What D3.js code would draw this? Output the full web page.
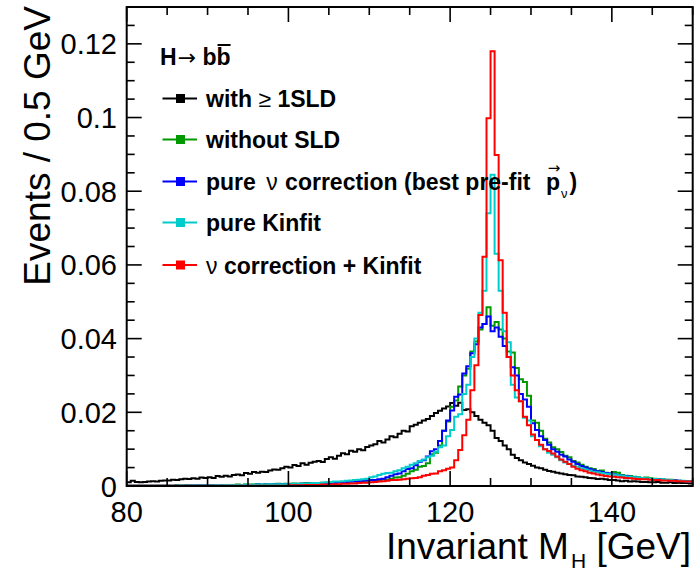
<!DOCTYPE html>
<html><head><meta charset="utf-8">
<script src="https://cdn.jsdelivr.net/npm/d3@7/dist/d3.min.js"></script>
<style>
body{margin:0;background:#fff}
svg{display:block}
text{font-family:"Liberation Sans",Arial,Helvetica,sans-serif;fill:#000}
</style>
</head><body>
<svg id="chart" width="696" height="569"></svg>
<script>
// ---------- data ----------
const binLow = 80;
const binWidth = 0.5;
const xTickValues = [80, 100, 120, 140];
const xTickLabels = ["80", "100", "120", "140"];
const yTickValues = [0, 0.02, 0.04, 0.06, 0.08, 0.1, 0.12];
const yTickLabels = ["0", "0.02", "0.04", "0.06", "0.08", "0.1", "0.12"];
const seriesNames = ["with ≥ 1SLD", "without SLD", "pure ν correction (best pre-fit p_ν)", "pure Kinfit", "ν correction + Kinfit"];
const seriesColors = ["#000000", "#009900", "#0000ff", "#00cccc", "#ff0000"];

const withSLD = [
0.0010,0.0014,0.0011,0.0010,0.0011,0.0012,0.0013,0.0012,0.0014,0.0015,
0.0015,0.0017,0.0016,0.0018,0.0020,0.0019,0.0021,0.0020,0.0023,0.0022,
0.0024,0.0022,0.0027,0.0025,0.0028,0.0026,0.0030,0.0031,0.0029,0.0035,
0.0033,0.0038,0.0036,0.0039,0.0038,0.0042,0.0045,0.0044,0.0048,0.0052,
0.0050,0.0057,0.0054,0.0062,0.0058,0.0063,0.0066,0.0068,0.0065,0.0073,
0.0078,0.0074,0.0082,0.0089,0.0086,0.0096,0.0093,0.0100,0.0097,0.0106,
0.0110,0.0113,0.0122,0.0118,0.0126,0.0135,0.0132,0.0142,0.0150,0.0148,
0.0162,0.0166,0.0172,0.0178,0.0182,0.0190,0.0198,0.0204,0.0210,0.0216,
0.0225,0.0218,0.0226,0.0206,0.0208,0.0200,0.0190,0.0180,0.0172,0.0165,
0.0150,0.0130,0.0122,0.0110,0.0100,0.0085,0.0076,0.0070,0.0064,0.0060,
0.0055,0.0050,0.0048,0.0044,0.0041,0.0039,0.0036,0.0034,0.0032,0.0030,
0.0029,0.0026,0.0025,0.0024,0.0022,0.0021,0.0019,0.0020,0.0018,0.0016,
0.0016,0.0015,0.0013,0.0014,0.0012,0.0013,0.0012,0.0011,0.0011,0.0010,
0.0010,0.0011,0.0009,0.0009,0.0010,0.0008,0.0009,0.0008,0.0008,0.0007];

const withoutSLD = [
0.0001,0.0001,0.0001,0.0001,0.0001,0.0001,0.0001,0.0001,0.0001,0.0001,
0.0001,0.0001,0.0002,0.0001,0.0002,0.0002,0.0002,0.0002,0.0002,0.0002,
0.0002,0.0003,0.0002,0.0003,0.0003,0.0003,0.0003,0.0004,0.0003,0.0004,
0.0004,0.0004,0.0005,0.0004,0.0005,0.0005,0.0005,0.0006,0.0005,0.0006,
0.0006,0.0007,0.0006,0.0007,0.0008,0.0007,0.0008,0.0008,0.0009,0.0009,
0.0010,0.0009,0.0010,0.0011,0.0011,0.0012,0.0012,0.0013,0.0013,0.0014,
0.0015,0.0016,0.0016,0.0018,0.0017,0.0020,0.0023,0.0024,0.0028,0.0033,
0.0040,0.0044,0.0052,0.0054,0.0062,0.0086,0.0090,0.0110,0.0150,0.0175,
0.0215,0.0232,0.0270,0.0300,0.0318,0.0365,0.0392,0.0425,0.0440,0.0485,
0.0435,0.0445,0.0425,0.0400,0.0365,0.0362,0.0320,0.0290,0.0282,0.0245,
0.0178,0.0172,0.0150,0.0128,0.0118,0.0105,0.0100,0.0092,0.0082,0.0078,
0.0068,0.0064,0.0058,0.0052,0.0048,0.0046,0.0040,0.0042,0.0036,0.0034,
0.0038,0.0036,0.0030,0.0028,0.0027,0.0025,0.0024,0.0022,0.0023,0.0021,
0.0020,0.0019,0.0018,0.0017,0.0017,0.0015,0.0014,0.0013,0.0013,0.0012];

const pureNuCorr = [
0.0001,0.0001,0.0001,0.0001,0.0001,0.0001,0.0001,0.0001,0.0001,0.0001,
0.0001,0.0001,0.0001,0.0001,0.0001,0.0002,0.0001,0.0002,0.0002,0.0002,
0.0002,0.0002,0.0002,0.0002,0.0003,0.0002,0.0003,0.0003,0.0003,0.0003,
0.0003,0.0003,0.0004,0.0003,0.0004,0.0004,0.0004,0.0004,0.0005,0.0004,
0.0005,0.0005,0.0005,0.0006,0.0006,0.0006,0.0007,0.0007,0.0007,0.0008,
0.0008,0.0009,0.0010,0.0010,0.0011,0.0012,0.0012,0.0013,0.0014,0.0015,
0.0016,0.0016,0.0018,0.0020,0.0024,0.0028,0.0032,0.0034,0.0040,0.0046,
0.0048,0.0056,0.0066,0.0070,0.0080,0.0094,0.0100,0.0122,0.0150,0.0178,
0.0205,0.0242,0.0248,0.0305,0.0325,0.0360,0.0385,0.0430,0.0440,0.0460,
0.0420,0.0430,0.0405,0.0380,0.0350,0.0322,0.0300,0.0250,0.0235,0.0215,
0.0170,0.0152,0.0135,0.0125,0.0112,0.0100,0.0093,0.0085,0.0080,0.0072,
0.0066,0.0060,0.0054,0.0050,0.0046,0.0043,0.0040,0.0038,0.0035,0.0034,
0.0032,0.0030,0.0028,0.0027,0.0025,0.0023,0.0022,0.0021,0.0020,0.0019,
0.0018,0.0019,0.0017,0.0016,0.0015,0.0016,0.0014,0.0013,0.0013,0.0012];

const pureKinfit = [
0.0001,0.0001,0.0001,0.0001,0.0001,0.0001,0.0001,0.0001,0.0001,0.0001,
0.0001,0.0001,0.0001,0.0002,0.0001,0.0002,0.0002,0.0002,0.0002,0.0002,
0.0002,0.0002,0.0003,0.0002,0.0003,0.0003,0.0003,0.0003,0.0003,0.0004,
0.0003,0.0004,0.0004,0.0004,0.0004,0.0005,0.0004,0.0005,0.0005,0.0005,
0.0005,0.0006,0.0006,0.0006,0.0007,0.0007,0.0008,0.0008,0.0009,0.0010,
0.0011,0.0012,0.0012,0.0013,0.0014,0.0015,0.0016,0.0017,0.0018,0.0020,
0.0024,0.0026,0.0030,0.0033,0.0035,0.0036,0.0040,0.0043,0.0048,0.0052,
0.0058,0.0062,0.0068,0.0072,0.0078,0.0082,0.0093,0.0105,0.0110,0.0135,
0.0152,0.0188,0.0195,0.0250,0.0275,0.0350,0.0400,0.0470,0.0530,0.0740,
0.0845,0.0630,0.0530,0.0420,0.0390,0.0275,0.0240,0.0230,0.0185,0.0178,
0.0135,0.0125,0.0108,0.0100,0.0090,0.0085,0.0078,0.0070,0.0064,0.0060,
0.0055,0.0052,0.0048,0.0045,0.0042,0.0039,0.0037,0.0035,0.0033,0.0032,
0.0031,0.0029,0.0028,0.0026,0.0025,0.0024,0.0023,0.0022,0.0021,0.0020,
0.0019,0.0018,0.0018,0.0017,0.0016,0.0015,0.0014,0.0014,0.0013,0.0012];

const nuCorrKinfit = [
0.0001,0.0001,0.0001,0.0001,0.0001,0.0001,0.0001,0.0001,0.0001,0.0001,
0.0001,0.0001,0.0001,0.0001,0.0001,0.0001,0.0001,0.0001,0.0001,0.0001,
0.0001,0.0001,0.0001,0.0001,0.0001,0.0001,0.0001,0.0001,0.0001,0.0001,
0.0001,0.0001,0.0001,0.0001,0.0001,0.0001,0.0001,0.0001,0.0001,0.0001,
0.0002,0.0002,0.0002,0.0002,0.0003,0.0003,0.0003,0.0003,0.0004,0.0004,
0.0004,0.0005,0.0005,0.0006,0.0006,0.0007,0.0007,0.0008,0.0009,0.0009,
0.0010,0.0011,0.0012,0.0013,0.0014,0.0016,0.0016,0.0017,0.0018,0.0020,
0.0021,0.0022,0.0024,0.0028,0.0030,0.0033,0.0034,0.0040,0.0043,0.0047,
0.0050,0.0070,0.0098,0.0138,0.0180,0.0260,0.0328,0.0464,0.0622,0.0998,
0.1180,0.0898,0.0613,0.0470,0.0350,0.0300,0.0260,0.0230,0.0188,0.0165,
0.0140,0.0125,0.0112,0.0100,0.0095,0.0088,0.0080,0.0072,0.0066,0.0060,
0.0052,0.0047,0.0043,0.0040,0.0036,0.0034,0.0031,0.0029,0.0027,0.0026,
0.0025,0.0024,0.0023,0.0022,0.0021,0.0020,0.0019,0.0018,0.0018,0.0017,
0.0016,0.0016,0.0015,0.0015,0.0014,0.0014,0.0013,0.0013,0.0012,0.0012];

const seriesValues = [withSLD, withoutSLD, pureNuCorr, pureKinfit, nuCorrKinfit];

// ---------- layout ----------
const svg = d3.select("#chart");
const L = 126.7, R = 692.7, T = 7, B = 486;
const x = d3.scaleLinear().domain([80, 150]).range([L, R]);
const y = d3.scaleLinear().domain([0, 0.13]).range([B, T]);

svg.append("defs").append("clipPath").attr("id", "clip")
  .append("rect").attr("x", L).attr("y", T).attr("width", R - L).attr("height", B - T);

// histograms
const line = d3.line().curve(d3.curveStepAfter).x(d => x(d[0])).y(d => y(d[1]));
const hg = svg.append("g").attr("clip-path", "url(#clip)");
seriesValues.forEach((vals, si) => {
  const pts = vals.map((v, i) => [binLow + i * binWidth, v]);
  pts.push([binLow + vals.length * binWidth, vals[vals.length - 1]]);
  hg.append("path").attr("d", line(pts))
    .attr("fill", "none").attr("stroke", seriesColors[si])
    .attr("stroke-width", 2).attr("stroke-linejoin", "miter");
});

// frame
svg.append("rect").attr("x", L).attr("y", T).attr("width", R - L).attr("height", B - T)
  .attr("fill", "none").attr("stroke", "#000").attr("stroke-width", 2);

// ticks
const tg = svg.append("g").attr("stroke", "#000").attr("stroke-width", 1.6);
const majLen = 15, minLen = 8;
d3.range(80, 150.01, 5).forEach(v => {
  const len = xTickValues.includes(v) ? majLen : minLen;
  tg.append("line").attr("x1", x(v)).attr("x2", x(v)).attr("y1", B).attr("y2", B - len);
  tg.append("line").attr("x1", x(v)).attr("x2", x(v)).attr("y1", T).attr("y2", T + len);
});
d3.range(0, 0.1301, 0.005).forEach((v, i) => {
  const len = (i % 4 === 0) ? majLen : minLen;
  tg.append("line").attr("x1", L).attr("x2", L + len).attr("y1", y(v)).attr("y2", y(v));
  tg.append("line").attr("x1", R).attr("x2", R - len).attr("y1", y(v)).attr("y2", y(v));
});

// tick labels
xTickValues.forEach((v, i) => {
  svg.append("text").attr("x", x(v)).attr("y", 521.5).attr("text-anchor", "middle")
    .attr("font-size", 29).text(xTickLabels[i]);
});
yTickValues.forEach((v, i) => {
  svg.append("text").attr("x", 117).attr("y", y(v) + 10.5).attr("text-anchor", "end")
    .attr("font-size", 29).text(yTickLabels[i]);
});

// axis titles
const xt = svg.append("text").attr("x", 691).attr("y", 559).attr("text-anchor", "end").attr("font-size", 37);
xt.append("tspan").text("Invariant M");
xt.append("tspan").attr("font-size", 21).attr("dy", 9).attr("dx", 2).text("H");
xt.append("tspan").attr("dy", -9).text(" [GeV]");

svg.append("text").attr("transform", "translate(50,6) rotate(-90)")
  .attr("text-anchor", "end").attr("font-size", 37).text("Events / 0.5 GeV");

// ---------- legend ----------
const lg = svg.append("g");
function rich(x0, yb, pieces) {
  let cx = x0;
  const out = [];
  pieces.forEach(p => {
    cx += (p.dx || 0);
    const t = lg.append("text").attr("x", cx).attr("y", yb + (p.dy || 0))
      .attr("font-size", p.size || 23).attr("font-weight", p.b ? "bold" : "normal")
      .style("white-space", "pre").attr("xml:space", "preserve").text(p.t);
    if (p.font) t.style("font-family", p.font);
    const w = t.node().getComputedTextLength();
    out.push({x: cx, w: w, t: t});
    cx += w;
  });
  return out;
}
// header
const hdr = rich(160, 65, [{t: "H", b: 1}, {t: "→", b: 0, dx: 1, font: "'DejaVu Sans'", size: 22}, {t: " b", b: 1}, {t: "b", b: 1}]);
const ob = hdr[3];
lg.append("line").attr("x1", ob.x + 1).attr("x2", ob.x + ob.w).attr("y1", 45).attr("y2", 45)
  .attr("stroke", "#000").attr("stroke-width", 2);

const labelPieces = [
  [{t: "with ", b: 1}, {t: "≥", b: 0}, {t: " 1SLD", b: 1}],
  [{t: "without SLD", b: 1}],
  [{t: "pure ", b: 1}, {t: "ν", b: 0, dx: 4}, {t: " correction (best pre-fit ", b: 1, dx: 1}, {t: "p", b: 1, dx: 9}, {t: "ν", b: 0, size: 13, dy: 8, dx: 1}, {t: ")", b: 1, dx: 2}],
  [{t: "pure Kinfit", b: 1}],
  [{t: "ν", b: 0}, {t: " correction + Kinfit", b: 1}]
];
const rowY = [98.5, 139.5, 181.5, 222.5, 265];
seriesNames.forEach((name, i) => {
  const yy = rowY[i];
  lg.append("line").attr("x1", 162.5).attr("x2", 197).attr("y1", yy).attr("y2", yy)
    .attr("stroke", seriesColors[i]).attr("stroke-width", 2);
  lg.append("rect").attr("x", 176).attr("y", yy - 4.5).attr("width", 9).attr("height", 9)
    .attr("fill", seriesColors[i]);
  const parts = rich(206, yy + 8.5, labelPieces[i]);
  if (i === 2) {
    const pp = parts[3];
    lg.append("text").attr("x", pp.x + pp.w / 2 + 1).attr("y", yy - 9).attr("text-anchor", "middle")
      .attr("font-size", 15).style("font-family", "'DejaVu Sans'").text("→");
  }
});
</script>
</body></html>
